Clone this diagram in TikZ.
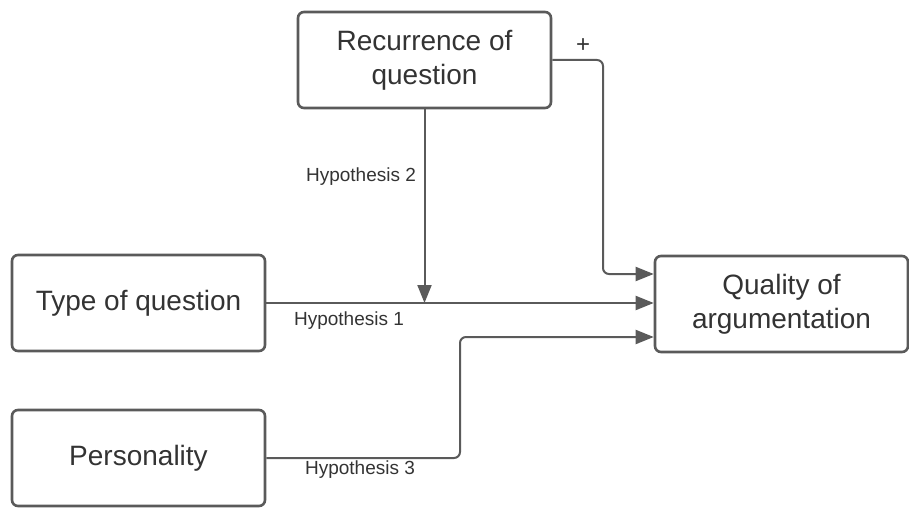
\documentclass[tikz,border=0pt]{standalone}
\usepackage{fontspec}
\setmainfont{Liberation Sans}
\usepackage{tikz}
\usetikzlibrary{positioning, arrows.meta}
\definecolor{edgegray}{HTML}{5A5A5A}
\definecolor{textgray}{HTML}{333333}
\tikzset{
    base/.style={draw=edgegray, line width=2.6pt, align=center, text=textgray, font=\fontsize{28}{34}\selectfont},
    box/.style={base, rectangle, rounded corners=6pt, minimum width=253pt, minimum height=96pt, inner sep=0pt},
    arrow/.style={-{Triangle[length=18pt, width=14pt]}, draw=edgegray, line width=2pt, rounded corners=6pt},
    hyplabel/.style={text=textgray, font=\fontsize{19}{22}\selectfont, inner sep=0pt}
}
\begin{document}
\begin{tikzpicture}[x=1pt, y=-1pt]
    \useasboundingbox (0,0) rectangle (909,508);
    % Boxes
    \node [box] (recur) at (424.5, 60) {Recurrence of \\ question};
    \node [box] (type) at (138.5, 303) {Type of question};
    \node [box] (pers) at (138.5, 458) {Personality};
    \node [box] (quality) at (781.5, 304) {Quality of \\ argumentation};

    % Bend points
    \coordinate (plusbend) at (603, 274);
    \coordinate (hypbend) at (460, 337);

    % Connections
    \draw [arrow] (type.east) -- (quality.west |- type.east);
    \draw [arrow] (recur.south) -- (recur.south |- type.east);
    \draw [arrow] (recur.east) -| (plusbend) -- (plusbend -| quality.west);
    \draw [arrow] (pers.east) -| (hypbend) -- (hypbend -| quality.west);

    % Labels
    \node [hyplabel, font=\fontsize{24}{26}\selectfont] (plus) at (583, 46) {+};
    \node [hyplabel] (hyptwo) at (361, 177) {Hypothesis 2};
    \node [hyplabel] (hypone) at (349, 321) {Hypothesis 1};
    \node [hyplabel] (hypthree) at (360, 470) {Hypothesis 3};
\end{tikzpicture}
\end{document}
